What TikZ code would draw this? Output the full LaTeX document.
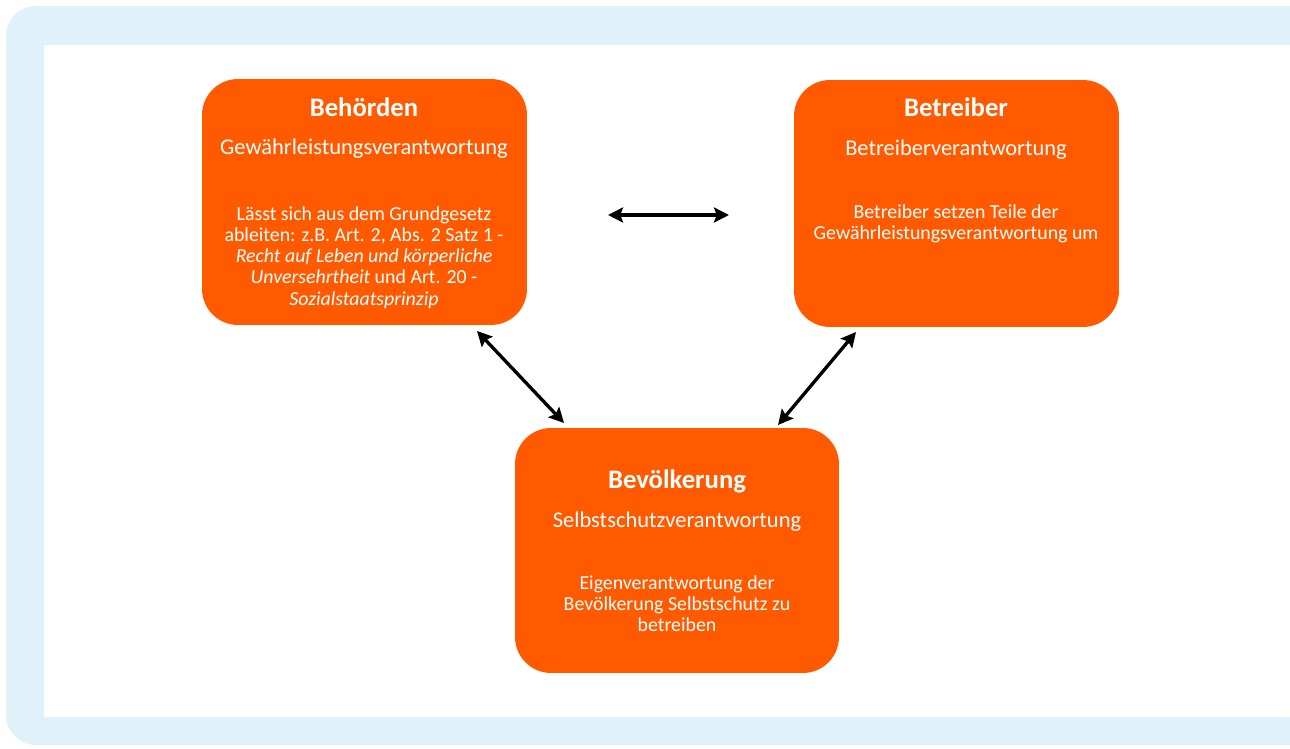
\documentclass[tikz,border=0pt]{standalone}
\usepackage{fontspec}
\setmainfont{Carlito}
\usetikzlibrary{arrows.meta}
\definecolor{framebl}{HTML}{E1F1FA}
\definecolor{orng}{HTML}{FF5A00}
\tikzset{
  obox/.style={fill=orng, draw=none, rounded corners=0.72cm, inner sep=0pt},
  ttl/.style={text=white, font=\fontsize{15.2}{18}\selectfont\bfseries, anchor=base, inner sep=0pt},
  sub/.style={text=white, font=\fontsize{12.8}{15}\selectfont, anchor=base, inner sep=0pt},
  body/.style={text=white, font=\fontsize{11.3}{12.1}\selectfont, anchor=north, align=center, inner sep=0pt},
  dbl/.style={{Stealth[length=8.5pt,width=8.5pt,inset=1.5pt]}-{Stealth[length=8.5pt,width=8.5pt,inset=1.5pt]}, line width=1.9pt, black}
}
\begin{document}
\begin{tikzpicture}[x=0.02cm,y=-0.02cm]
\useasboundingbox (0,0) rectangle (1290,749);
\fill[white] (0,0) rectangle (1290,749);
\begin{scope}
\clip (0,0) rectangle (1290,749);
\fill[framebl, rounded corners=0.6cm] (6,6) rectangle (1360,745);
\end{scope}
\fill[white] (44,45) rectangle (1290,717);

% boxes
\node[obox, minimum width=6.5cm, minimum height=4.92cm] (beh) at (364.5,202) {};
\node[obox, minimum width=6.5cm, minimum height=4.94cm] (bet) at (956.5,203.5) {};
\node[obox, minimum width=6.48cm, minimum height=4.9cm] (bev) at (677,550.5) {};

% Behörden texts
\node[ttl] (behT) at (364,117) {Behörden};
\node[sub] (behS) at (364,155) {Gewährleistungsverantwortung};
\node[body] (behB) at (364,206) {Lässt sich aus dem Grundgesetz\\ableiten: z.B. Art. 2, Abs. 2 Satz 1 -\\\textit{Recht auf Leben und körperliche}\\\textit{Unversehrtheit} und Art. 20 -\\\textit{Sozialstaatsprinzip}};

% Betreiber texts
\node[ttl] (betT) at (956,117) {Betreiber};
\node[sub] (betS) at (956,156) {Betreiberverantwortung};
\node[body] (betB) at (956,204) {Betreiber setzen Teile der\\Gewährleistungsverantwortung um};

% Bevölkerung texts
\node[ttl] (bevT) at (677,488) {Bevölkerung};
\node[sub] (bevS) at (677,527) {Selbstschutzverantwortung};
\node[body] (bevB) at (677,575) {Eigenverantwortung der\\Bevölkerung Selbstschutz zu\\betreiben};

% arrow end points
\coordinate (h1) at (608,215);
\coordinate (h2) at (729,215);
\coordinate (l1) at (477,331);
\coordinate (l2) at (564,423);
\coordinate (r1) at (856,332);
\coordinate (r2) at (778,425);

\draw[dbl] (h1) -- (h2);
\draw[dbl] (l1) -- (l2);
\draw[dbl] (r1) -- (r2);
\end{tikzpicture}
\end{document}
